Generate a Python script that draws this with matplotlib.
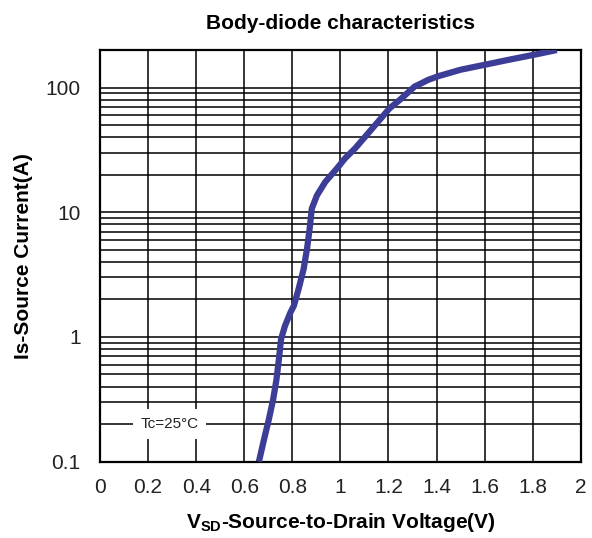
import matplotlib
matplotlib.use("Agg")
import matplotlib.pyplot as plt
from matplotlib.ticker import FixedLocator, NullFormatter

# curve (Tc = 25 C)
vsd = [0.661, 0.682, 0.702, 0.720, 0.734, 0.744, 0.753, 0.769, 0.792, 0.806,
       0.826, 0.847, 0.861, 0.872, 0.881, 0.902, 0.937, 0.985, 1.019, 1.061,
       1.109, 1.157, 1.205, 1.247, 1.309, 1.336, 1.364, 1.405, 1.500, 1.598,
       1.700, 1.804, 1.900]
i_s = [0.1, 0.15, 0.217, 0.314, 0.455, 0.66, 0.957, 1.22, 1.57, 1.77,
       2.42, 3.5, 5.08, 7.36, 10.7, 13.6, 17.5, 22.4, 27.0, 32.5,
       41.6, 53.3, 68.3, 79.6, 102.0, 108.0, 115.0, 123.0, 139.0, 152.0,
       167.0, 183.0, 200.0]

x_ticks = [0, 0.2, 0.4, 0.6, 0.8, 1.0, 1.2, 1.4, 1.6, 1.8, 2.0]
x_labels = ["0", "0.2", "0.4", "0.6", "0.8", "1", "1.2", "1.4", "1.6", "1.8", "2"]
y_ticks = [0.1, 1, 10, 100]
y_labels = ["0.1", "1", "10", "100"]

plt.rcParams['font.family'] = ['Liberation Sans', 'DejaVu Sans']
plt.rcParams['mathtext.fontset'] = 'custom'
plt.rcParams['mathtext.rm'] = 'Liberation Sans:bold'

fig = plt.figure(figsize=(5.92, 5.38), dpi=100)
ax = fig.add_axes([0.169, 0.142, 0.812, 0.765])

ax.set_yscale('log')
ax.set_xlim(0, 2)
ax.set_ylim(0.1, 200)

ax.xaxis.set_major_locator(FixedLocator(x_ticks))
ax.set_xticklabels(x_labels)
ax.yaxis.set_major_locator(FixedLocator(y_ticks))
ax.set_yticklabels(y_labels)
minors = [m * d for d in [0.1, 1, 10, 100] for m in range(2, 10)]
ax.yaxis.set_minor_locator(FixedLocator([v for v in minors if v <= 200]))
ax.yaxis.set_minor_formatter(NullFormatter())

ax.grid(True, which='both', color='black', linewidth=1.1)
ax.tick_params(which='both', length=0, labelsize=15, colors='#222222')
ax.tick_params(axis='x', pad=12)
ax.tick_params(axis='y', pad=14)
for s in ax.spines.values():
    s.set_linewidth(1.6)
ax.set_axisbelow(True)

ax.plot(vsd, i_s, color='#3c3d97', linewidth=4.5, solid_capstyle='butt',
        solid_joinstyle='round', zorder=3)

ax.text(0.29, 0.2, 'Tc=25°C', fontsize=11, ha='center', va='center', color='#222222',
        bbox=dict(boxstyle='square,pad=0.5', fc='white', ec='none'), zorder=4)

ax.set_title('Body-diode characteristics', fontsize=15, fontweight='bold', pad=15)
ax.set_xlabel(r'V$_\mathrm{SD}$-Source-to-Drain Voltage(V)', fontsize=15,
              fontweight='bold', labelpad=10)
ax.set_ylabel('Is-Source Current(A)', fontsize=15, fontweight='bold', labelpad=9)

fig.savefig('out.png', dpi=100)
